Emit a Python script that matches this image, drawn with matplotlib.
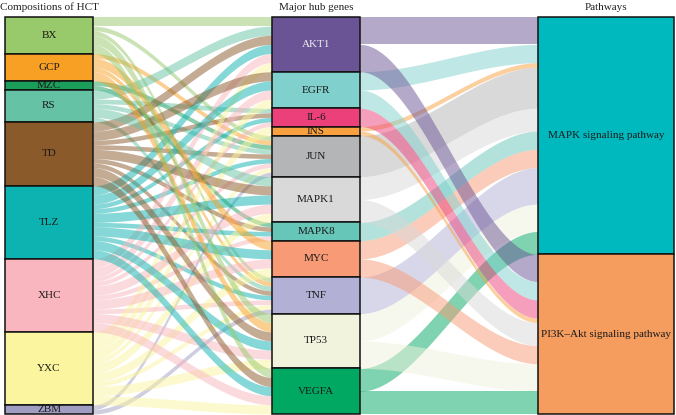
import numpy as np
import matplotlib.pyplot as plt
from matplotlib.patches import Rectangle

herbs = ['BX', 'GCP', 'MZC', 'RS', 'TD', 'TLZ', 'XHC', 'YXC', 'ZBM']
herb_colors = ['#98c96a', '#f7a023', '#1b9e5a', '#66c2a5', '#8b5a2b',
               '#0db3b0', '#f9b6be', '#fbf59f', '#a09dc2']

genes = ['AKT1', 'EGFR', 'IL-6', 'INS', 'JUN', 'MAPK1', 'MAPK8',
         'MYC', 'TNF', 'TP53', 'VEGFA']
gene_colors = ['#6b5495', '#80d0ce', '#ec407a', '#f9a03f', '#b4b5b6',
               '#d9d9d9', '#66c6b8', '#f89a76', '#b3b0d6', '#f1f3dd', '#00a862']

pathways = ['MAPK signaling pathway', 'PI3K–Akt signaling pathway']
pathway_colors = ['#00b9bf', '#f59c5f']

# herb -> gene links
hg_herb = ['BX', 'GCP', 'MZC', 'RS', 'TD', 'TLZ', 'XHC', 'YXC', 'ZBM',
           'BX', 'GCP', 'RS', 'TD', 'TLZ', 'XHC', 'YXC', 'ZBM',
           'RS', 'TD', 'TLZ', 'XHC',
           'MZC', 'TD', 'TLZ', 'XHC',
           'BX', 'RS', 'TD', 'TLZ', 'XHC', 'YXC',
           'TD', 'TLZ', 'XHC', 'YXC',
           'YXC',
           'RS', 'TD', 'TLZ', 'XHC', 'YXC',
           'GCP', 'TLZ', 'XHC', 'YXC',
           'BX', 'GCP', 'TD', 'TLZ', 'XHC', 'YXC',
           'BX', 'TD', 'TLZ', 'XHC', 'YXC']
hg_gene = ['JUN'] * 9 + ['TNF'] * 8 + ['IL-6'] * 4 + ['MAPK8'] * 4 + \
          ['AKT1'] * 6 + ['EGFR'] * 4 + ['INS'] + ['MAPK1'] * 5 + \
          ['MYC'] * 4 + ['TP53'] * 6 + ['VEGFA'] * 5
hg_value = [1] * 25 + [2] * 31

# gene -> pathway links
gp_gene = ['AKT1', 'EGFR', 'INS', 'JUN', 'MAPK1', 'MAPK8', 'MYC', 'TNF', 'TP53', 'VEGFA',
           'AKT1', 'EGFR', 'IL-6', 'INS', 'MAPK1', 'MYC', 'TP53', 'VEGFA']
gp_path = [pathways[0]] * 10 + [pathways[1]] * 8
gp_value = [6, 4, 1, 9, 5, 4, 4, 8, 6, 5,
            6, 4, 4, 1, 5, 4, 6, 5]

plt.rcParams['font.family'] = ['Liberation Serif', 'DejaVu Serif']

fig = plt.figure(figsize=(6.76, 4.15), dpi=100)
ax = fig.add_axes([0, 0, 1, 1])
total = sum(hg_value)
px = 397 / total
ax.set_xlim(0, 676)
ax.set_ylim((415 - 17) / px, -17 / px)
ax.axis('off')

cols = [(5, 93), (272, 360), (538, 674)]


def node_tops(names, src, val):
    size = {n: 0 for n in names}
    for s, v in zip(src, val):
        size[s] += v
    tops, y = {}, 0
    for n in names:
        tops[n] = y
        y += size[n]
    return tops, size


herb_top, herb_size = node_tops(herbs, hg_herb, hg_value)
gene_top, gene_size = node_tops(genes, hg_gene, hg_value)
path_top, path_size = node_tops(pathways, gp_path, gp_value)


def draw_flows(src, dst, val, src_names, dst_names, src_top, dst_top, colors, x0, x1):
    order_out = sorted(range(len(src)), key=lambda i: (src_names.index(src[i]), dst_names.index(dst[i])))
    order_in = sorted(range(len(src)), key=lambda i: (dst_names.index(dst[i]), src_names.index(src[i])))
    y_out, y_in = {}, {}
    cur = dict(src_top)
    for i in order_out:
        y_out[i] = cur[src[i]]
        cur[src[i]] += val[i]
    cur = dict(dst_top)
    for i in order_in:
        y_in[i] = cur[dst[i]]
        cur[dst[i]] += val[i]
    x = np.linspace(x0, x1, 80)
    t = (x - x0) / (x1 - x0)
    s = 3 * t ** 2 - 2 * t ** 3
    for i in range(len(src)):
        top = y_out[i] + (y_in[i] - y_out[i]) * s
        c = colors[src_names.index(src[i])]
        ax.fill_between(x, top, top + val[i], color=c, alpha=0.5, lw=0, zorder=1)


draw_flows(hg_herb, hg_gene, hg_value, herbs, genes, herb_top, gene_top,
           herb_colors, cols[0][1], cols[1][0])
draw_flows(gp_gene, gp_path, gp_value, genes, pathways, gene_top, path_top,
           gene_colors, cols[1][1], cols[2][0])


def draw_nodes(names, tops, sizes, colors, col, light=()):
    for n, c in zip(names, colors):
        ax.add_patch(Rectangle((col[0], tops[n]), col[1] - col[0], sizes[n],
                               facecolor=c, edgecolor='#111111', lw=1.1, zorder=2))
        ax.text((col[0] + col[1]) / 2, tops[n] + sizes[n] / 2, n,
                ha='center', va='center', fontsize=8, zorder=3,
                color='#eeeeee' if n in light else '#1a1a1a')


draw_nodes(herbs, herb_top, herb_size, herb_colors, cols[0])
draw_nodes(genes, gene_top, gene_size, gene_colors, cols[1], light=('AKT1',))
draw_nodes(pathways, path_top, path_size, pathway_colors, cols[2])

title_y = -10 / px
ax.text(49, title_y, 'Compositions of HCT', ha='center', va='center', fontsize=8, color='#222222')
ax.text(316, title_y, 'Major hub genes', ha='center', va='center', fontsize=8, color='#222222')
ax.text(606, title_y, 'Pathways', ha='center', va='center', fontsize=8, color='#222222')

fig.savefig('out.png', dpi=100)
